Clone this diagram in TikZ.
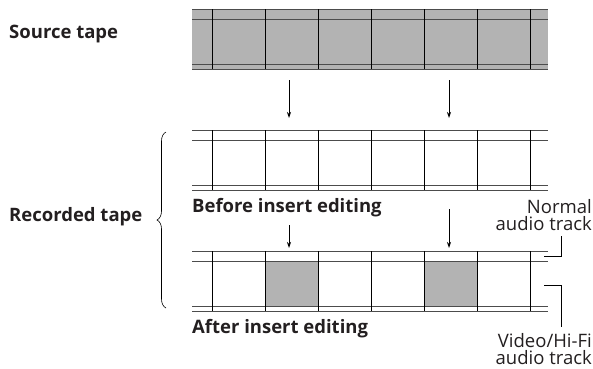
\documentclass[tikz,border=0pt]{standalone}
\usepackage{fontspec}
\setmainfont{Open Sans}
\usetikzlibrary{decorations.pathreplacing,arrows.meta}

\definecolor{tapegray}{RGB}{179,179,179}
\definecolor{inkgray}{RGB}{35,31,32}

\tikzset{
    tapeline/.style={draw=black!70, line width=0.9pt},
    frameline/.style={draw=black, line width=0.8pt},
    feed/.style={-{Stealth[length=6pt,width=4pt]}, line width=0.8pt},
    leader/.style={draw=black, line width=0.8pt},
    boldlabel/.style={font=\fontsize{18.5}{22}\selectfont\bfseries, text=inkgray, anchor=base west, inner sep=0pt},
    tracklabel/.style={font=\fontsize{18.5}{17.5}\selectfont, text=inkgray, align=right, anchor=north east, inner sep=0pt}
}

\begin{document}
\begin{tikzpicture}[x=1pt,y=-1pt]
    \useasboundingbox (0,0) rectangle (593,368);

    % source tape, grey all over
    \fill[tapegray] (192,9) rectangle (548,69);

    % inserted frames on the edited tape
    \foreach \x in {265,424}
    {
        \fill[tapegray] (\x,261) rectangle (\x+53,306);
    }

    % edges, track lines and frame lines of the three tapes
    \foreach \t in {9,130,251}
    {
        \foreach \dy in {0,10,55,60}
        {
            \draw[tapeline] (192,\t+\dy) -- (548,\t+\dy);
        }
        \foreach \x in {212,265,...,530}
        {
            \draw[frameline] (\x,\t) -- (\x,\t+60);
        }
    }

    \node[boldlabel] (source) at (9,38) {Source tape};
    \node[boldlabel] (recorded) at (9,221) {Recorded tape};
    \node[boldlabel] (before) at (192,212) {Before insert editing};
    \node[boldlabel] (after) at (192,333) {After insert editing};

    \node[tracklabel] (normal) at (592,199) {Normal\\audio track};
    \node[tracklabel] (video) at (592,333) {Video/Hi-Fi\\audio track};

    % copy arrows
    \coordinate (srcA) at (289,80);
    \coordinate (befA) at (289,118);
    \coordinate (srcB) at (449,80);
    \coordinate (befB) at (449,118);
    \coordinate (insA) at (289,225);
    \coordinate (aftA) at (289,248);
    \coordinate (insB) at (449,209);
    \coordinate (aftB) at (449,248);

    \draw[feed] (srcA) -- (befA);
    \draw[feed] (srcB) -- (befB);
    \draw[feed] (insA) -- (aftA);
    \draw[feed] (insB) -- (aftB);

    % leaders to the track labels
    \coordinate (audioEnd) at (544,256);
    \coordinate (audioTop) at (561,236);
    \coordinate (videoEnd) at (544,285);
    \coordinate (videoBot) at (561,327);

    \draw[leader] (audioEnd) -| (audioTop);
    \draw[leader] (videoEnd) -| (videoBot);

    \draw[decorate,decoration={brace,amplitude=9pt},line width=0.6pt]
    (166,308) -- (166,132);

\end{tikzpicture}
\end{document}
